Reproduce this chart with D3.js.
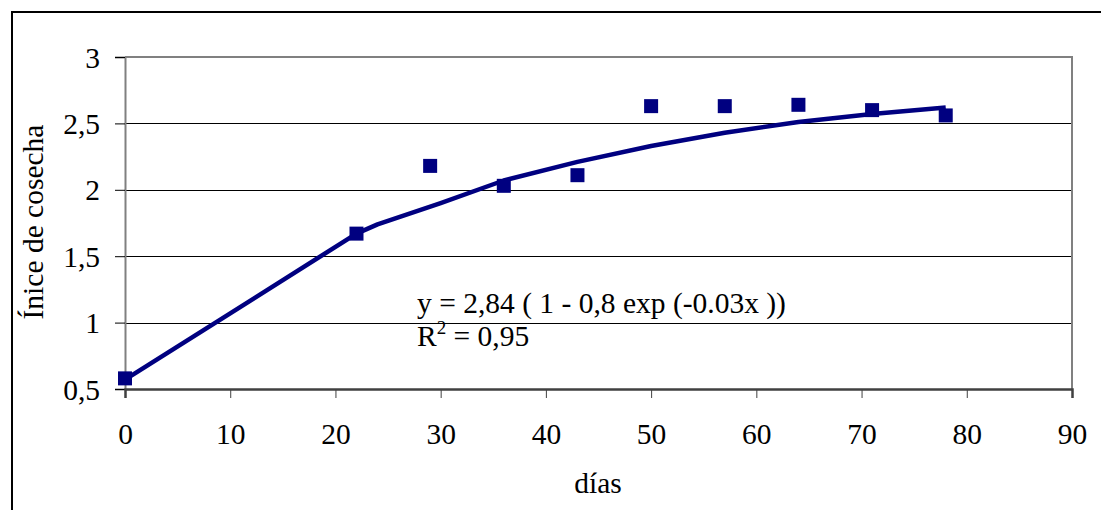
<!DOCTYPE html>
<html><head><meta charset="utf-8">
<script src="https://cdn.jsdelivr.net/npm/d3@7"></script>
<style>body{margin:0;background:#fff}svg{display:block}text{font-family:"Liberation Serif","Times New Roman",serif;fill:#000}</style>
</head><body><div id="chart"></div>
<script>
// Observed data (días vs índice de cosecha)
const obsDays = [0, 22, 29, 36, 43, 50, 57, 64, 71, 78];
const obsIndex = [0.58, 1.67, 2.18, 2.03, 2.11, 2.63, 2.63, 2.64, 2.60, 2.56];
// Fitted curve
const fitDays = [0, 10, 22, 24, 30, 36, 43, 50, 57, 64, 71, 78];
const fitIndex = [0.57, 1.07, 1.67, 1.74, 1.90, 2.07, 2.21, 2.33, 2.43, 2.51, 2.57, 2.62];
const xTicks = [0, 10, 20, 30, 40, 50, 60, 70, 80, 90];
const yTicks = [0.5, 1, 1.5, 2, 2.5, 3];
const yTickLabels = ["0,5", "1", "1,5", "2", "2,5", "3"];
const gridValues = [1, 1.5, 2, 2.5];

const W = 1101, H = 510, FS = "29.5px";
const svg = d3.select("#chart").append("svg").attr("width", W).attr("height", H);
const L = 125, R = 1072, T = 57, B = 389;
const x = d3.scaleLinear().domain([0, 90]).range([L, R]);
const y = d3.scaleLinear().domain([0.5, 3]).range([B, T]);

// outer border
svg.append("rect").attr("x", 12).attr("y", 12).attr("width", 1100).attr("height", 520)
  .attr("fill", "none").attr("stroke", "#000").attr("stroke-width", 2);

// gridlines
svg.append("g").selectAll("line").data(gridValues).join("line")
  .attr("x1", L).attr("x2", R).attr("y1", d => Math.round(y(d)) + 0.5).attr("y2", d => Math.round(y(d)) + 0.5)
  .attr("stroke", "#000").attr("stroke-width", 1);

// plot frame (top & right)
svg.append("path").attr("d", `M${L},${T}H${R}V${B}`).attr("fill", "none")
  .attr("stroke", "#808080").attr("stroke-width", 2);

// y axis
const yAxis = d3.axisLeft(y).tickValues(yTicks).tickSize(10).tickPadding(15)
  .tickFormat((d, i) => yTickLabels[i]);
const gy = svg.append("g").attr("transform", `translate(${L},0)`).call(yAxis);
gy.select(".domain").attr("stroke", "#808080").attr("stroke-width", 2);
gy.selectAll(".tick line").attr("stroke", "#000");
gy.selectAll(".tick text").style("font-size", FS).attr("dy", "0.34em");

// x axis
const xAxis = d3.axisBottom(x).tickValues(xTicks).tickSize(9).tickPadding(0).tickFormat(d3.format("d"));
const gx = svg.append("g").attr("transform", `translate(0,${B})`).call(xAxis);
gx.select(".domain").attr("stroke", "#404040").attr("stroke-width", 2.5);
gx.selectAll(".tick line").attr("stroke", "#404040");
gx.selectAll(".tick text").style("font-size", FS).attr("y", 55).attr("dy", 0);

// fitted line
const line = d3.line().x((d, i) => x(fitDays[i])).y((d, i) => y(fitIndex[i]));
svg.append("path").datum(fitIndex).attr("d", line).attr("fill", "none")
  .attr("stroke", "#000080").attr("stroke-width", 4.5).attr("stroke-linejoin", "round");

// observed markers
const ms = 14;
svg.append("g").selectAll("rect").data(obsIndex).join("rect")
  .attr("x", (d, i) => x(obsDays[i]) - ms / 2).attr("y", d => y(d) - ms / 2)
  .attr("width", ms).attr("height", ms).attr("fill", "#000080");

// equation
svg.append("text").attr("x", 417).attr("y", 313).style("font-size", FS)
  .text("y = 2,84 ( 1 - 0,8 exp (-0.03x ))");
const r2 = svg.append("text").attr("x", 417).attr("y", 346).style("font-size", FS);
r2.append("tspan").text("R");
r2.append("tspan").attr("dy", -12).style("font-size", "19px").text("2");
r2.append("tspan").attr("dy", 12).text(" = 0,95");

// axis titles
svg.append("text").attr("x", 598).attr("y", 493).attr("text-anchor", "middle").style("font-size", FS).text("días");
svg.append("text").attr("transform", "translate(43,222) rotate(-90)").attr("text-anchor", "middle")
  .style("font-size", FS).text("Ínice de cosecha");
</script></body></html>
